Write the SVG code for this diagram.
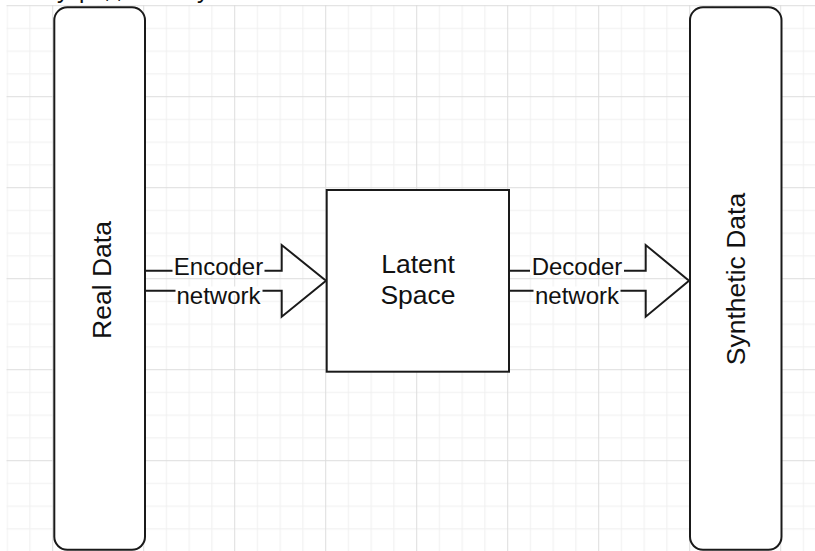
<svg xmlns="http://www.w3.org/2000/svg" width="815" height="551" viewBox="0 0 815 551">
  <style>
    .box { fill: #ffffff; stroke: #1a1a1a; stroke-width: 2; }
    .flow { fill: none; stroke: #1a1a1a; stroke-width: 2; stroke-linejoin: miter; }
    .lbl { font-family: "Liberation Sans", Arial, Helvetica, sans-serif; fill: #111111; text-anchor: middle; }
    .edge { font-size: 24px; }
    .node { font-size: 26.5px; }
    .lblbg { fill: #ffffff; }
  </style>
  <defs>
    <!-- 4x4 minor cells per major cell -->
    <pattern id="grid" x="52.2" y="5.2" width="91" height="91" patternUnits="userSpaceOnUse">
      <g fill="#efefef">
        <rect x="22.75" y="0" width="1" height="91"/>
        <rect x="45.5" y="0" width="1" height="91"/>
        <rect x="68.25" y="0" width="1" height="91"/>
        <rect x="0" y="22.75" width="91" height="1"/>
        <rect x="0" y="45.5" width="91" height="1"/>
        <rect x="0" y="68.25" width="91" height="1"/>
      </g>
      <g fill="#dddddd">
        <rect x="0" y="0" width="1" height="91"/>
        <rect x="0" y="0" width="91" height="1"/>
      </g>
    </pattern>
  </defs>

  <rect x="0" y="0" width="815" height="551" fill="#ffffff"/>
  <rect x="6.5" y="5" width="808.5" height="546" fill="url(#grid)"/>

  <!-- line of text running off the top edge; only descenders remain -->
  <g class="lbl edge" style="text-anchor:start">
    <text x="57" y="-2.5">y</text>
    <text x="79" y="-2.5">p</text>
    <text x="104" y="-2.5">,</text>
    <text x="116" y="-2.5">,</text>
    <text x="197" y="-2.5">y</text>
  </g>

  <g id="connectors">
    <g id="encoder">
      <path class="flow" d="M146,270.7 H281.7 V245 L326,280.7 L281.7,316.7 V290.7 H146"/>
      <rect class="lblbg" x="172.5" y="266.5" width="92" height="8.5"/>
      <rect class="lblbg" x="175.5" y="286.5" width="87" height="8.5"/>
      <text class="lbl edge" x="218.5" y="275">Encoder</text>
      <text class="lbl edge" x="218.5" y="304">network</text>
    </g>
    <g id="decoder">
      <path class="flow" d="M509,270.7 H645.7 V245 L689,280.7 L645.7,316.7 V290.7 H509"/>
      <rect class="lblbg" x="530" y="266.5" width="94" height="8.5"/>
      <rect class="lblbg" x="533.5" y="286.5" width="87" height="8.5"/>
      <text class="lbl edge" x="577" y="275">Decoder</text>
      <text class="lbl edge" x="577" y="304">network</text>
    </g>
  </g>

  <g id="real-data">
    <rect class="box" x="54.3" y="7.3" width="90.7" height="542.5" rx="13" ry="13"/>
    <text class="lbl node" transform="translate(110.5,280) rotate(-90)">Real Data</text>
  </g>

  <g id="latent-space">
    <rect class="box" x="326.7" y="190" width="182.3" height="181.7"/>
    <text class="lbl node" x="418" y="272.7">Latent</text>
    <text class="lbl node" x="418" y="304.3">Space</text>
  </g>

  <g id="synthetic-data">
    <rect class="box" x="690" y="7.3" width="91.5" height="542.5" rx="13" ry="13"/>
    <text class="lbl node" transform="translate(744.5,279) rotate(-90)">Synthetic Data</text>
  </g>
</svg>
